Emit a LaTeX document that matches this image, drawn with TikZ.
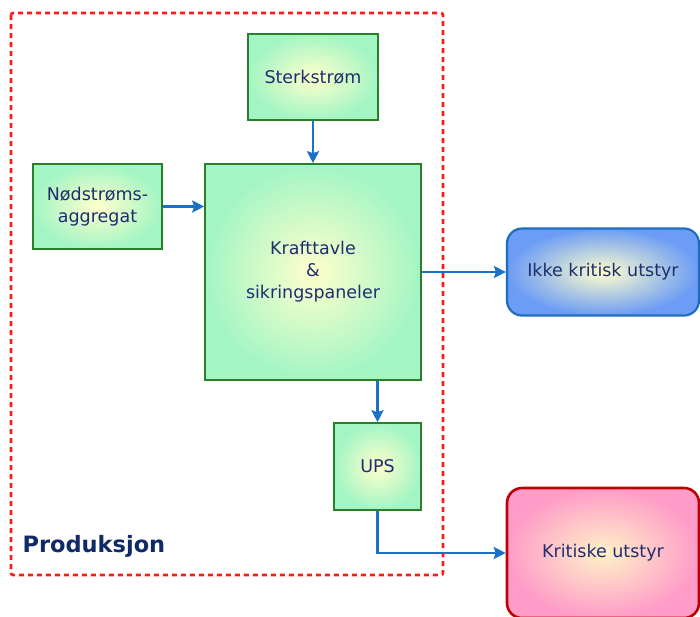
\documentclass[tikz,border=0pt]{standalone}
\usepackage{fontspec}
\setmainfont{DejaVu Sans}
\usetikzlibrary{arrows.meta}
\definecolor{txtnavy}{HTML}{1F2E6E}
\definecolor{prodnavy}{HTML}{0F2A66}
\definecolor{mint}{HTML}{A3F5C4}
\definecolor{paleyellow}{HTML}{FFFFCC}
\definecolor{boxgreen}{HTML}{2A7F2A}
\definecolor{skyblue}{HTML}{6C9CF5}
\definecolor{boxblue}{HTML}{1E6EC0}
\definecolor{rosepink}{HTML}{FF9CC8}
\definecolor{paleorange}{HTML}{FFF2C8}
\definecolor{boxred}{HTML}{C00000}
\definecolor{flowblue}{HTML}{1A72C6}
\definecolor{framered}{HTML}{FF1A1A}
\tikzset{
  every node/.style={font=\fontsize{17.5}{22}\selectfont, text=txtnavy, align=center},
  greenbox/.style={draw=boxgreen, line width=1.6pt, shading=radial,
    inner color=paleyellow, outer color=mint},
  bluebox/.style={draw=boxblue, line width=2.2pt, rounded corners=15pt, shading=radial,
    inner color=paleyellow, outer color=skyblue},
  pinkbox/.style={draw=boxred, line width=2.6pt, rounded corners=15pt, shading=radial,
    inner color=paleorange, outer color=rosepink},
  flow/.style={draw=flowblue, line width=2.8pt,
    -{Stealth[length=12pt,width=12pt,inset=2pt]}},
  zone/.style={draw=framered, line width=2.6pt, dash pattern=on 5pt off 4pt, rounded corners=2pt}
}
\begin{document}
\begin{tikzpicture}[x=1pt,y=-1pt]
\useasboundingbox (0,0) rectangle (700,616);
% production zone
\draw[zone] (11,13) rectangle (443,575);
\node[anchor=west, font=\fontsize{22.5}{26}\selectfont\bfseries, text=prodnavy] (prod) at (19,546) {Produksjon};
% blocks
\node[greenbox, minimum width=130pt, minimum height=86pt] (sterk) at (313,77) {Sterkstrøm};
\node[greenbox, minimum width=129pt, minimum height=85pt] (nod) at (97.5,206.5) {Nødstrøms-\\aggregat};
\node[greenbox, minimum width=216pt, minimum height=216pt] (kraft) at (313,272) {Krafttavle\\\&\\sikringspaneler};
\node[greenbox, minimum width=87pt, minimum height=87pt] (ups) at (377.5,466.5) {UPS};
\node[bluebox, minimum width=192pt, minimum height=87pt] (ikke) at (603,272) {Ikke kritisk utstyr};
\node[pinkbox, minimum width=192pt, minimum height=130pt] (krit) at (603,553) {Kritiske utstyr};
% connections
\draw[flow] (sterk.south) -- (sterk.south |- kraft.north);
\draw[flow] (nod.east) -- (kraft.west |- nod.east);
\draw[flow] (kraft.east |- ikke.west) -- (ikke.west);
\draw[flow] (ups.north |- kraft.south) -- (ups.north);
\draw[flow] (ups.south) |- (krit.west);
\end{tikzpicture}
\end{document}
